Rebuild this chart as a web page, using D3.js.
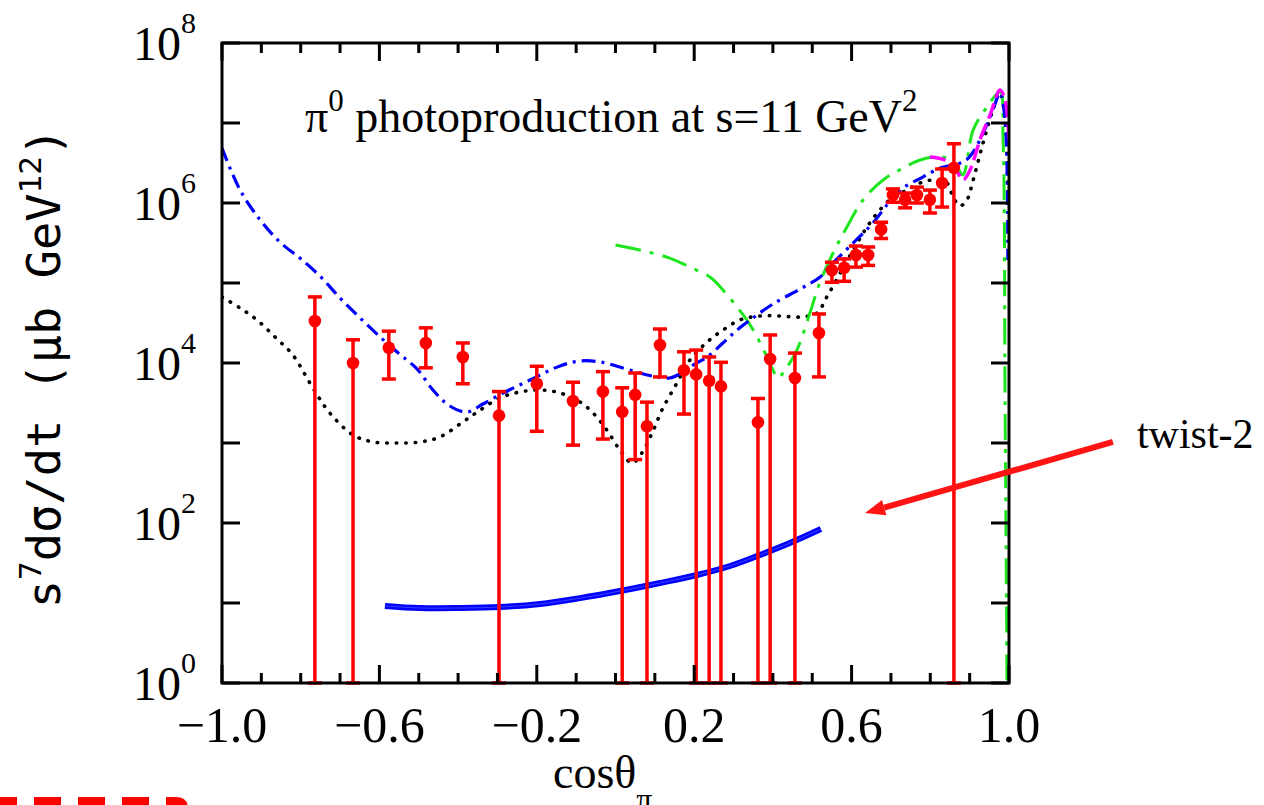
<!DOCTYPE html>
<html>
<head>
<meta charset="utf-8">
<script src="https://cdn.jsdelivr.net/npm/d3@7"></script>
<style>
  body { margin: 0; background: #fff; }
  svg { display: block; }
</style>
</head>
<body>
<svg class="graph"></svg>
<script>
// measured points (cos theta, s^7 dsigma/dt, lower, upper)
const dataCos = [-0.764, -0.667, -0.576, -0.482, -0.388, -0.296, -0.200, -0.108, -0.032, 0.017,
  0.050, 0.080, 0.113, 0.174, 0.205, 0.238, 0.268, 0.362, 0.393, 0.456, 0.517,
  0.550, 0.581, 0.611, 0.642, 0.675, 0.705, 0.736, 0.766, 0.799, 0.830, 0.860];
const dataVal = [3.35e4, 1.0e4, 1.55e4, 1.78e4, 1.19e4, 2.2e3, 5.5e3, 3.35e3, 4.4e3, 2.45e3,
  4.0e3, 1.62e3, 1.68e4, 8.1e3, 7.2e3, 6.0e3, 5.1e3, 1.82e3, 1.12e4, 6.5e3, 2.37e4,
  1.45e5, 1.55e5, 2.24e5, 2.24e5, 4.7e5, 1.26e6, 1.1e6, 1.26e6, 1.1e6, 1.78e6, 2.75e6];
const dataLo = [1, 1, 6.3e3, 8.7e3, 5.5e3, 1, 1.4e3, 9.4e2, 1.12e3, 1,
  6.2e2, 1, 6.7e3, 2.3e3, 1, 1, 1, 1, 1, 1, 6.7e3,
  1.02e5, 1.05e5, 1.58e5, 1.66e5, 3.6e5, 1.02e6, 8.7e5, 1.0e6, 7.5e5, 8.9e5, 1];
const dataHi = [6.7e4, 1.95e4, 2.5e4, 2.75e4, 1.78e4, 4.4e3, 9.1e3, 5.75e3, 7.8e3, 4.9e3,
  7.5e3, 3.24e3, 2.66e4, 1.38e4, 1.45e4, 1.19e4, 1.02e4, 3.6e3, 2.24e4, 1.33e4, 4.1e4,
  1.82e5, 2.0e5, 2.9e5, 2.82e5, 5.75e5, 1.5e6, 1.33e6, 1.58e6, 1.45e6, 2.66e6, 5.5e6];

// blue dash-dot model
const blueCos = [-1.000, -0.954, -0.903, -0.853, -0.802, -0.751, -0.700, -0.649, -0.598, -0.555,
  -0.504, -0.464, -0.421, -0.377, -0.337, -0.286, -0.217, -0.141, -0.090, -0.039,
  0.019, 0.062, 0.105, 0.138, 0.172, 0.197, 0.233, 0.273, 0.309, 0.349,
  0.400, 0.469, 0.520, 0.553, 0.604, 0.654, 0.698, 0.731, 0.781, 0.825,
  0.858, 0.888, 0.909, 0.934, 0.959, 0.977, 0.990, 0.997];
const blueVal = [4.87e6, 1.45e6, 6.13e5, 3.25e5, 2.05e5, 1.22e5, 6.5e4, 3.65e4, 2.11e4, 1.37e4,
  8.4e3, 4.6e3, 2.9e3, 2.44e3, 3.07e3, 4.2e3, 6.13e3, 9.2e3, 1.06e4, 1.03e4,
  8.66e3, 7.5e3, 6.7e3, 6.5e3, 7.7e3, 9.4e3, 1.19e4, 1.78e4, 2.58e4, 3.65e4,
  5.46e4, 8.4e4, 1.19e5, 1.78e5, 3.16e5, 5.62e5, 1.06e6, 1.54e6, 2.11e6, 2.74e6,
  2.99e6, 3.35e6, 4.34e6, 7.5e6, 1.45e7, 2.37e7, 1.09e7, 1.94e5];

// black dotted model
const blackCos = [-1.000, -0.954, -0.911, -0.865, -0.820, -0.769, -0.726, -0.667, -0.616, -0.555,
  -0.497, -0.446, -0.388, -0.344, -0.294, -0.243, -0.192, -0.141, -0.090, -0.057,
  -0.022, 0.011, 0.042, 0.067, 0.093, 0.118, 0.156, 0.189, 0.233, 0.273,
  0.316, 0.367, 0.418, 0.469, 0.512, 0.537, 0.571, 0.604, 0.639, 0.672,
  0.705, 0.741, 0.774, 0.807, 0.842, 0.858, 0.875, 0.893, 0.909, 0.934,
  0.959, 0.977, 0.990, 0.997];
const blackVal = [6.68e4, 4.87e4, 3.45e4, 2.11e4, 1.26e4, 4.87e3, 2.37e3, 1.26e3, 1.03e3, 1.0e3,
  1.03e3, 1.19e3, 1.83e3, 2.58e3, 3.65e3, 4.34e3, 4.6e3, 4.22e3, 3.25e3, 2.37e3,
  1.45e3, 8.2e2, 5.62e2, 7.5e2, 1.33e3, 2.58e3, 5.62e3, 1.09e4, 1.83e4, 2.58e4,
  3.45e4, 3.87e4, 3.87e4, 3.76e4, 4.22e4, 6.68e4, 1.33e5, 2.58e5, 5.01e5, 8.2e5,
  1.19e6, 1.45e6, 1.78e6, 1.94e6, 1.78e6, 1.19e6, 9.2e5, 1.09e6, 1.94e6, 5.62e6,
  1.45e7, 2.37e7, 1.09e7, 1.09e6];

// green long-dash-dot model
const greenCos = [0.000, 0.062, 0.138, 0.189, 0.240, 0.273, 0.309, 0.334, 0.360, 0.385,
  0.400, 0.413, 0.431, 0.461, 0.494, 0.520, 0.553, 0.588, 0.629, 0.680,
  0.731, 0.774, 0.807, 0.842, 0.868, 0.883, 0.909, 0.944, 0.977, 0.985,
  0.990, 0.995];
const greenVal = [2.99e5, 2.58e5, 2.05e5, 1.58e5, 1.19e5, 8.2e4, 5.01e4, 3.45e4, 2.11e4, 1.19e4,
  8.2e3, 6.5e3, 8.2e3, 1.45e4, 4.22e4, 1.03e5, 2.37e5, 5.01e5, 1.09e6, 1.94e6,
  2.74e6, 3.45e6, 3.76e6, 3.65e6, 2.82e6, 2.24e6, 8.2e6, 1.58e7, 2.44e7, 6.13e6,
  3.45e3, 0.8];

// magenta dashed model
const magentaCos = [0.799, 0.837, 0.863, 0.883, 0.901, 0.926, 0.952, 0.977, 0.990, 1.000];
const magentaVal = [3.76e6, 3.45e6, 2.74e6, 1.94e6, 2.58e6, 6.13e6, 1.26e7, 2.58e7, 1.94e7, 6.13e6];

// twist-2 prediction
const twistCos = [-0.586, -0.497, -0.395, -0.294, -0.192, -0.090, 0.011, 0.113, 0.207, 0.291,
  0.367, 0.443, 0.522];
const twistVal = [9.2, 8.66, 8.66, 8.9, 9.7, 11.5, 14.1, 17.8, 22.4, 29.0, 39.8, 56.2, 84.1];

const xMajor = [-1.0, -0.6, -0.2, 0.2, 0.6, 1.0];
const xLabels = ['\u22121.0', '\u22120.6', '\u22120.2', '0.2', '0.6', '1.0'];
const xMinor = d3.range(-10, 11).map(d => d / 10);
const yDecades = [1, 1e1, 1e2, 1e3, 1e4, 1e5, 1e6, 1e7, 1e8];
const yLabelExp = ['0', '2', '4', '6', '8'];

// arrow from the label to the twist-2 curve, in data units
const arrowFrom = [1.264, 1030];
const arrowTo = [0.634, 133];

const width = 1264;
const height = 805;
const margin = { top: 43, left: 222, right: 255, bottom: 122 };
const innerWidth = width - margin.left - margin.right;
const innerHeight = height - margin.top - margin.bottom;

const svg = d3.select('.graph').attr('width', width).attr('height', height);

const x = d3.scaleLinear().domain([-1, 1]).range([margin.left, margin.left + innerWidth]);
const y = d3.scaleLog().domain([1, 1e8]).range([margin.top + innerHeight, margin.top]);

svg.append('defs').append('clipPath').attr('id', 'plotClip')
  .append('rect')
  .attr('x', margin.left).attr('y', margin.top)
  .attr('width', innerWidth).attr('height', innerHeight);

const plot = svg.append('g').attr('clip-path', 'url(#plotClip)');

const line = d3.line()
  .x(d => x(d[0]))
  .y(d => y(d[1]))
  .curve(d3.curveCatmullRom.alpha(0.5));

function drawCurve(cosArr, valArr, color, w, dash) {
  plot.append('path')
    .datum(cosArr.map((c, i) => [c, valArr[i]]))
    .attr('d', line)
    .attr('fill', 'none')
    .attr('stroke', color)
    .attr('stroke-width', w)
    .attr('stroke-dasharray', dash)
    .attr('stroke-linecap', dash === '0.5,9' ? 'round' : 'butt');
}

drawCurve(blackCos, blackVal, '#000', 3.6, '0.5,9');
drawCurve(greenCos, greenVal, '#1ee61e', 3, '26,9,4,9');
drawCurve(blueCos, blueVal, '#0000ff', 3.2, '14,6,3,6');
drawCurve(magentaCos, magentaVal, '#ff00ff', 3.5, '16,6');

// twist-2: drawn as a doubled thick line
const twistData = twistCos.map((c, i) => [c, twistVal[i]]);
plot.append('path').datum(twistData).attr('d', line)
  .attr('fill', 'none').attr('stroke', '#0000ff').attr('stroke-width', 6);
plot.append('path').datum(twistData).attr('d', line)
  .attr('fill', 'none').attr('stroke', '#5a5aff').attr('stroke-width', 0.7);

// data with error bars
const pts = dataCos.map((c, i) => ({ c, v: dataVal[i], lo: dataLo[i], hi: dataHi[i] }));
const eb = svg.append('g').attr('stroke', '#ff0000').attr('stroke-width', 3.5);
eb.selectAll('line.bar').data(pts).enter().append('line')
  .attr('class', 'bar')
  .attr('x1', d => x(d.c)).attr('x2', d => x(d.c))
  .attr('y1', d => y(d.lo)).attr('y2', d => y(d.hi));
eb.selectAll('line.top').data(pts).enter().append('line')
  .attr('class', 'top')
  .attr('x1', d => x(d.c) - 7).attr('x2', d => x(d.c) + 7)
  .attr('y1', d => y(d.hi)).attr('y2', d => y(d.hi));
eb.selectAll('line.bot').data(pts).enter().append('line')
  .attr('class', 'bot')
  .attr('x1', d => x(d.c) - 7).attr('x2', d => x(d.c) + 7)
  .attr('y1', d => y(d.lo)).attr('y2', d => y(d.lo));
svg.append('g').selectAll('circle').data(pts).enter().append('circle')
  .attr('cx', d => x(d.c)).attr('cy', d => y(d.v))
  .attr('r', 6.3).attr('fill', '#ff0000');

// frame and ticks
const frame = svg.append('g').attr('stroke', '#000').attr('stroke-width', 3);
frame.append('rect')
  .attr('x', margin.left).attr('y', margin.top)
  .attr('width', innerWidth).attr('height', innerHeight)
  .attr('fill', 'none');

const isMajor = v => xMajor.some(m => Math.abs(m - v) < 1e-6);
frame.selectAll('line.xb').data(xMinor).enter().append('line')
  .attr('x1', d => x(d)).attr('x2', d => x(d))
  .attr('y1', margin.top + innerHeight)
  .attr('y2', d => margin.top + innerHeight - (isMajor(d) ? 18 : 10));
frame.selectAll('line.xt').data(xMinor).enter().append('line')
  .attr('x1', d => x(d)).attr('x2', d => x(d))
  .attr('y1', margin.top)
  .attr('y2', d => margin.top + (isMajor(d) ? 18 : 10));
frame.selectAll('line.yl').data(yDecades).enter().append('line')
  .attr('x1', margin.left).attr('x2', margin.left + 18)
  .attr('y1', d => y(d)).attr('y2', d => y(d));
frame.selectAll('line.yr').data(yDecades).enter().append('line')
  .attr('x1', margin.left + innerWidth).attr('x2', margin.left + innerWidth - 18)
  .attr('y1', d => y(d)).attr('y2', d => y(d));

// tick labels
svg.append('g').selectAll('text').data(xMajor).enter().append('text')
  .attr('x', d => x(d))
  .attr('y', margin.top + innerHeight + 59)
  .attr('text-anchor', 'middle')
  .attr('font-family', 'Liberation Serif')
  .attr('font-size', 50)
  .text((d, i) => xLabels[i]);

const yl = svg.append('g').selectAll('text').data(yLabelExp).enter().append('text')
  .attr('x', margin.left - 26)
  .attr('y', d => y(Math.pow(10, +d)) + 17)
  .attr('text-anchor', 'end')
  .attr('font-family', 'Liberation Serif')
  .attr('font-size', 48);
yl.append('tspan').text('10');
yl.append('tspan').attr('font-size', 30).attr('dy', -27).text(d => d);

// axis titles
const xt = svg.append('text')
  .attr('x', 553).attr('y', 788)
  .attr('font-family', 'Liberation Serif')
  .attr('font-size', 46);
xt.append('tspan').text('cos\u03b8');
xt.append('tspan').attr('font-size', 32).attr('dy', 22).text('\u03c0');

const yt = svg.append('text')
  .attr('transform', 'translate(60,368) rotate(-90)')
  .attr('text-anchor', 'middle')
  .attr('font-family', 'DejaVu Sans Mono')
  .attr('font-size', 47);
yt.append('tspan').text('s');
yt.append('tspan').attr('font-size', 31).attr('dy', -19).text('7');
yt.append('tspan').attr('dy', 19).text('d\u03c3/dt (\u03bcb GeV');
yt.append('tspan').attr('font-size', 31).attr('dy', -19).text('12');
yt.append('tspan').attr('dy', 19).text(')');

// title inside the frame
const title = svg.append('text')
  .attr('x', 305).attr('y', 132)
  .attr('font-family', 'Liberation Serif')
  .attr('font-size', 46);
title.append('tspan').text('\u03c0');
title.append('tspan').attr('font-size', 31).attr('dy', -21).text('0');
title.append('tspan').attr('dy', 21).text(' photoproduction at s=11 GeV');
title.append('tspan').attr('font-size', 31).attr('dy', -21).text('2');

// twist-2 annotation
const ax0 = x(arrowFrom[0]), ay0 = y(arrowFrom[1]);
const ax1 = x(arrowTo[0]), ay1 = y(arrowTo[1]);
const ang = Math.atan2(ay1 - ay0, ax1 - ax0);
const headLen = 20, headHalf = 8;
const bx = ax1 - headLen * Math.cos(ang), by = ay1 - headLen * Math.sin(ang);
svg.append('line')
  .attr('x1', ax0).attr('y1', ay0).attr('x2', bx).attr('y2', by)
  .attr('stroke', '#ff1414').attr('stroke-width', 6);
svg.append('path')
  .attr('d', `M${ax1},${ay1}L${bx + headHalf * Math.sin(ang)},${by - headHalf * Math.cos(ang)}L${bx - headHalf * Math.sin(ang)},${by + headHalf * Math.cos(ang)}Z`)
  .attr('fill', '#ff1414');
svg.append('text')
  .attr('x', ax0 + 24).attr('y', ay0 + 6)
  .attr('font-family', 'Liberation Serif')
  .attr('font-size', 42)
  .text('twist-2');

// edge of a red dashed box from the slide below
svg.append('path')
  .attr('d', 'M-10,801H176Q184,801,184,809V830')
  .attr('fill', 'none')
  .attr('stroke', '#ff0000')
  .attr('stroke-width', 8)
  .attr('stroke-dasharray', '27,17');
</script>
</body>
</html>
